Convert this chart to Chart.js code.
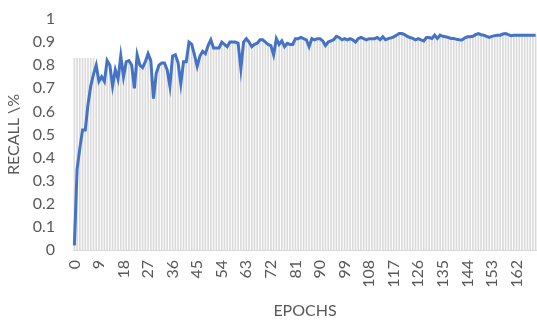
<!DOCTYPE html>
<html>
<head>
<meta charset="utf-8">
<script src="https://cdn.jsdelivr.net/npm/chart.js@4"></script>
<style>
  html, body { margin: 0; padding: 0; background: #fff; }
  #wrap { width: 537px; height: 320px; }
</style>
</head>
<body>
<div id="wrap"><canvas id="recallChart" width="537" height="320"></canvas></div>
<script>
// recall per epoch
const recall = [
  0.02, 0.35, 0.44, 0.52, 0.52, 0.63, 0.71, 0.76, 0.80, 0.73,
  0.75, 0.73, 0.82, 0.80, 0.71, 0.78, 0.74, 0.84, 0.75, 0.815,
  0.82, 0.80, 0.70, 0.845, 0.80, 0.79, 0.815, 0.85, 0.82, 0.655,
  0.765, 0.80, 0.81, 0.81, 0.78, 0.71, 0.84, 0.845, 0.81, 0.72,
  0.815, 0.815, 0.90, 0.89, 0.845, 0.795, 0.84, 0.86, 0.85, 0.885,
  0.91, 0.875, 0.875, 0.875, 0.90, 0.89, 0.88, 0.90, 0.90, 0.90,
  0.895, 0.785, 0.90, 0.915, 0.90, 0.88, 0.89, 0.895, 0.91, 0.91,
  0.90, 0.89, 0.885, 0.845, 0.915, 0.89, 0.905, 0.88, 0.895, 0.89,
  0.89, 0.915, 0.915, 0.92, 0.915, 0.91, 0.88, 0.915, 0.91, 0.915,
  0.915, 0.905, 0.885, 0.90, 0.905, 0.91, 0.925, 0.92, 0.91, 0.915,
  0.91, 0.915, 0.91, 0.90, 0.915, 0.92, 0.915, 0.91, 0.915, 0.915,
  0.915, 0.92, 0.91, 0.923, 0.91, 0.915, 0.918, 0.923, 0.93, 0.937,
  0.937, 0.932, 0.925, 0.92, 0.916, 0.91, 0.915, 0.91, 0.905, 0.92,
  0.92, 0.916, 0.93, 0.916, 0.93, 0.925, 0.923, 0.92, 0.916, 0.916,
  0.912, 0.91, 0.909, 0.918, 0.923, 0.923, 0.925, 0.932, 0.937, 0.932,
  0.93, 0.925, 0.92, 0.925, 0.928, 0.93, 0.93, 0.935, 0.937, 0.932,
  0.928, 0.93, 0.93, 0.93, 0.93, 0.93, 0.93, 0.93, 0.93, 0.93
];

// the grey drop lines; the first few start higher than the line
const dropTop = recall.map(function(v, i) { return i < 8 ? 0.83 : v; });

const epochs = recall.map(function(v, i) { return String(i); });
const yTicks = [0, 0.1, 0.2, 0.3, 0.4, 0.5, 0.6, 0.7, 0.8, 0.9, 1];

const textGrey = '#595959';
const fontFamily = 'Lato, "Open Sans", sans-serif';

const ctx = document.getElementById('recallChart').getContext('2d');

new Chart(ctx, {
    data: {
        labels: epochs,
        datasets: [{
            type: 'line',
            label: 'Recall',
            data: recall,
            borderColor: '#4472c4',
            borderWidth: 3,
            pointRadius: 0,
            tension: 0,
            order: 0
        }, {
            type: 'bar',
            label: 'drop',
            data: dropTop,
            backgroundColor: '#dadada',
            barThickness: 1,
            order: 1
        }]
    },
    options: {
        responsive: false,
        animation: false,
        events: [],
        layout: { padding: { top: 19, right: 0, left: 0, bottom: 0 } },
        plugins: {
            legend: { display: false },
            tooltip: { enabled: false }
        },
        scales: {
            x: {
                offset: true,
                grid: { display: false, drawTicks: false },
                border: { display: true, color: '#d9d9d9' },
                ticks: {
                    autoSkip: false,
                    minRotation: 90,
                    maxRotation: 90,
                    padding: 10,
                    color: textGrey,
                    font: { family: fontFamily, size: 16 },
                    callback: function(value, index) {
                        return index % 9 === 0 ? epochs[index] : '';
                    }
                },
                title: {
                    display: true,
                    text: 'EPOCHS',
                    color: textGrey,
                    font: { family: fontFamily, size: 16 },
                    padding: { top: 0, bottom: 0 }
                },
                afterFit: function(scale) {
                    scale.height = 70;
                    scale.paddingLeft = 0;
                    scale.paddingRight = 0;
                }
            },
            y: {
                min: 0,
                max: 1,
                grid: { display: false, drawTicks: false },
                border: { display: false },
                afterBuildTicks: function(scale) {
                    scale.ticks = yTicks.map(function(v) { return { value: v }; });
                },
                ticks: {
                    padding: 18,
                    color: textGrey,
                    font: { family: fontFamily, size: 16 },
                    callback: function(value) { return String(Math.round(value * 10) / 10); }
                },
                title: {
                    display: true,
                    text: 'RECALL \\%',
                    color: textGrey,
                    font: { family: fontFamily, size: 16 },
                    padding: { top: 4, bottom: 4 }
                },
                afterFit: function(scale) {
                    scale.width = 73;
                    scale.paddingTop = 0;
                    scale.paddingBottom = 0;
                }
            }
        }
    }
});
</script>
</body>
</html>
